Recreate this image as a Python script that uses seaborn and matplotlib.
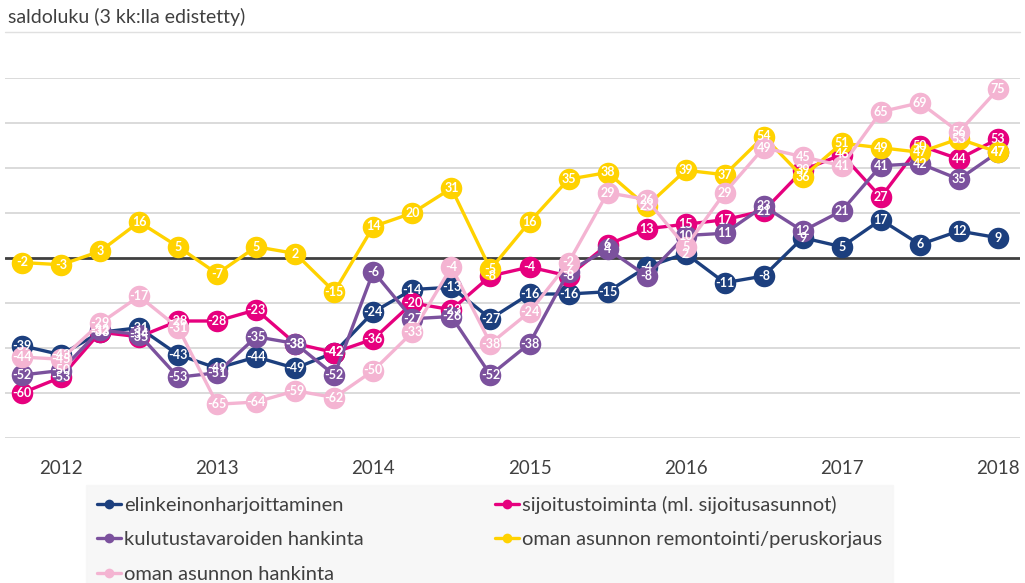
import numpy as np
import pandas as pd
import seaborn as sns
import matplotlib.pyplot as plt
from matplotlib.lines import Line2D

sns.set_theme(style="white")
plt.rcParams['font.family'] = ['Lato', 'DejaVu Sans']

# quarterly observations, 2011 Q4 ... 2018 Q1
quarters = [2011.75 + 0.25 * i for i in range(26)]

names = ["elinkeinonharjoittaminen",
         "sijoitustoiminta (ml. sijoitusasunnot)",
         "kulutustavaroiden hankinta",
         "oman asunnon remontointi/peruskorjaus",
         "oman asunnon hankinta"]
colors = ["#1c3f7e", "#e6007e", "#7b519d", "#ffd200", "#f4b4d2"]

elinkeino = [-39, -43, -33, -31, -43, -49, -44, -49, -42, -24, -14, -13, -27,
             -16, -16, -15, -4, 2, -11, -8, 9, 5, 17, 6, 12, 9]
sijoitus = [-60, -53, -33, -35, -28, -28, -23, -38, -42, -36, -20, -23, -8,
            -4, -8, 6, 13, 15, 17, 21, 39, 46, 27, 50, 44, 53]
kulutus = [-52, -50, -32, -34, -53, -51, -35, -38, -52, -6, -27, -26, -52,
           -38, -6, 4, -8, 10, 11, 23, 12, 21, 41, 42, 35, 47]
remontointi = [-2, -3, 3, 16, 5, -7, 5, 2, -15, 14, 20, 31, -5,
               16, 35, 38, 23, 39, 37, 54, 36, 51, 49, 47, 53, 47]
hankinta = [-44, -45, -29, -17, -31, -65, -64, -59, -62, -50, -33, -4, -38,
            -24, -2, 29, 26, 5, 29, 49, 45, 41, 65, 69, 56, 75]

series = [elinkeino, sijoitus, kulutus, remontointi, hankinta]
year_ticks = [2012, 2013, 2014, 2015, 2016, 2017, 2018]

fig = plt.figure(figsize=(10.25, 5.83), dpi=100)
ax = fig.add_axes([5 / 1025, 145 / 583, 1015 / 1025, 360 / 583])

for ytick in range(-80, 81, 20):
    if ytick != 0:
        ax.axhline(ytick, color="#d4d4d4", linewidth=1.2, zorder=0)
ax.axhline(0, color="#404040", linewidth=2, zorder=1)

for i, (vals, name, col) in enumerate(zip(series, names, colors)):
    sns.lineplot(x=quarters, y=vals, color=col, linewidth=2.4, marker="o",
                 markersize=15.5, markeredgewidth=0, ax=ax, zorder=2 + i,
                 clip_on=False, label=name, legend=False)

for vals in series:
    for x, v in zip(quarters, vals):
        ax.text(x, v, str(v), ha="center", va="center", color="white",
                fontsize=9, fontweight="bold", zorder=20)

ax.set_xlim(2011.641, 2018.141)
ax.set_ylim(-80, 80)
ax.set_xticks(year_ticks)
ax.set_xticklabels([str(y) for y in year_ticks], fontsize=13.5, color="#404040")
ax.tick_params(axis="x", length=0, pad=16)
ax.set_yticks([])
for s in ax.spines.values():
    s.set_visible(False)

fig.text(8 / 1025, 1 - 17 / 583, "saldoluku (3 kk:lla edistetty)",
         fontsize=14, color="#404040", va="center", ha="left")
fig.add_artist(Line2D([5 / 1025, 1020 / 1025], [1 - 32 / 583, 1 - 32 / 583],
                      color="#e0e0e0", linewidth=1))

# matplotlib fills legend columns first, so reorder to read row by row
order = [0, 2, 4, 1, 3]
handles = [Line2D([0], [0], color=colors[k], linewidth=2.4, marker="o",
                  markersize=7, markeredgewidth=0) for k in order]
leg = fig.legend(handles, [names[k] for k in order], loc="upper left",
                 bbox_to_anchor=(86 / 1025, 1 - 485 / 583), ncol=2,
                 borderaxespad=0, fontsize=14.5, frameon=True,
                 handlelength=1.2, handletextpad=0.15, columnspacing=6.5,
                 labelspacing=0.85, borderpad=0.55, fancybox=False)
leg.get_frame().set_facecolor("#f6f6f6")
leg.get_frame().set_edgecolor("#f6f6f6")
for t in leg.get_texts():
    t.set_color("#404040")

fig.savefig("out.png", dpi=100)
